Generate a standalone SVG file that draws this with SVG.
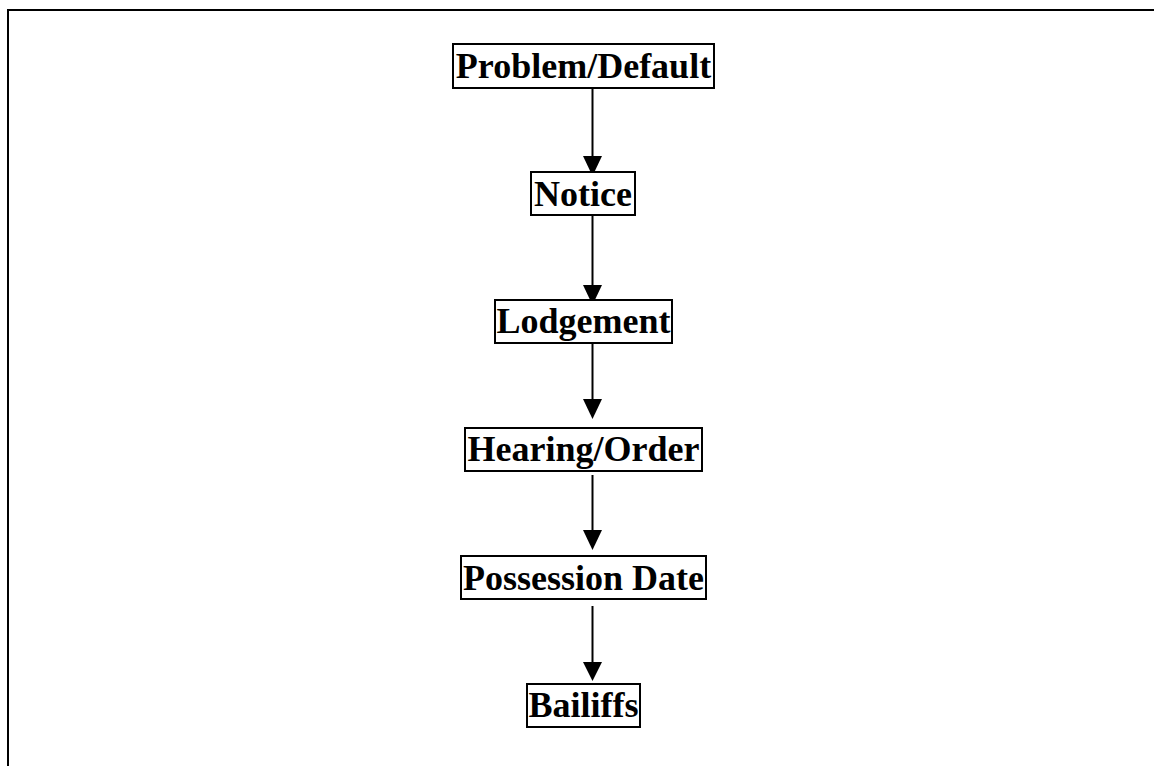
<svg xmlns="http://www.w3.org/2000/svg" width="1154" height="766" viewBox="0 0 1154 766">
<defs>
<style>
.box{fill:#fff;stroke:#000;stroke-width:2}
.lbl{font-family:"Liberation Serif","Times New Roman",serif;font-weight:bold;font-size:36px;fill:#000;text-anchor:middle}
.conn{stroke:#000;stroke-width:2;fill:none}
.head{fill:#000}
</style>
</defs>
<rect width="1154" height="766" fill="#fff"/>
<g id="frame"><path d="M8,766 V10 H1154" fill="none" stroke="#000" stroke-width="2"/></g>
<g id="connectors">
<line class="conn" x1="592.5" y1="84" x2="592.5" y2="160"/>
<polygon class="head" points="583,156 602,156 592.5,176"/>
<line class="conn" x1="592.5" y1="215" x2="592.5" y2="288"/>
<polygon class="head" points="583,285 602,285 592.5,305"/>
<line class="conn" x1="592.5" y1="343" x2="592.5" y2="402"/>
<polygon class="head" points="583,399 602,399 592.5,419"/>
<line class="conn" x1="592.5" y1="475" x2="592.5" y2="533"/>
<polygon class="head" points="583,530 602,530 592.5,550"/>
<line class="conn" x1="592.5" y1="606" x2="592.5" y2="665"/>
<polygon class="head" points="583,662 602,662 592.5,681"/>
</g>
<g id="n1"><rect class="box" x="453" y="44" width="261" height="44"/><text class="lbl" x="583.5" y="78">Problem/Default</text></g>
<g id="n2"><rect class="box" x="531" y="172" width="104" height="43"/><text class="lbl" x="583" y="206">Notice</text></g>
<g id="n3"><rect class="box" x="495" y="300" width="177" height="43"/><text class="lbl" x="583.5" y="333">Lodgement</text></g>
<g id="n4"><rect class="box" x="465" y="428" width="237" height="43"/><text class="lbl" x="583.5" y="461">Hearing/Order</text></g>
<g id="n5"><rect class="box" x="461" y="556" width="245" height="43"/><text class="lbl" x="583.5" y="590">Possession Date</text></g>
<g id="n6"><rect class="box" x="527" y="684" width="113" height="43"/><text class="lbl" x="583.5" y="717">Bailiffs</text></g>
</svg>
